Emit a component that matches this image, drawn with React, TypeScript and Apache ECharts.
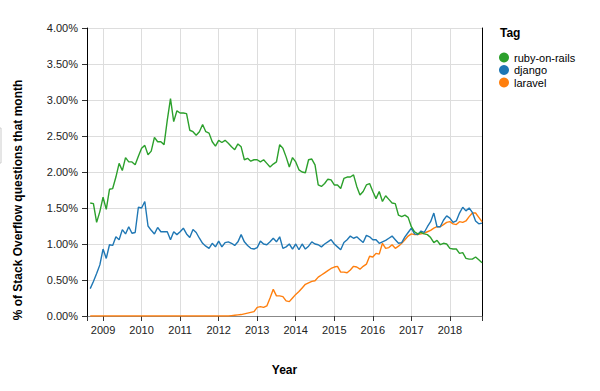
import React, { useEffect, useRef } from "react";
import * as echarts from "echarts";

// Monthly categories: Aug 2008 .. Nov 2018 (the first month carries no data)
const START_YEAR = 2008;
const START_MONTH = 8;
const MONTH_COUNT = 124;
const months: string[] = [];
for (let i = 0; i < MONTH_COUNT; i++) {
  const total = START_MONTH - 1 + i;
  const y = START_YEAR + Math.floor(total / 12);
  const m = (total % 12) + 1;
  months.push(`${y}-${m < 10 ? "0" + m : m}`);
}

const seriesNames = ["ruby-on-rails", "django", "laravel"];
const seriesColors = ["#2ca02c", "#1f77b4", "#ff7f0e"];

// % of Stack Overflow questions that month, Sep 2008 .. Nov 2018
const rubyOnRails = [
  1.57, 1.56, 1.30, 1.45, 1.65, 1.48, 1.76, 1.77, 1.93, 2.12,
  2.02, 2.20, 2.14, 2.14, 2.10, 2.22, 2.33, 2.37, 2.24, 2.29,
  2.48, 2.42, 2.42, 2.38, 2.72, 3.02, 2.70, 2.85, 2.82, 2.82,
  2.81, 2.58, 2.56, 2.51, 2.56, 2.66, 2.56, 2.54, 2.42, 2.36,
  2.44, 2.41, 2.44, 2.40, 2.35, 2.31, 2.39, 2.35, 2.17, 2.19,
  2.15, 2.17, 2.17, 2.14, 2.17, 2.12, 2.07, 2.11, 2.14, 2.38,
  2.33, 2.21, 2.07, 2.20, 2.14, 2.03, 2.00, 1.99, 2.17, 2.18,
  2.10, 1.82, 1.80, 1.84, 1.90, 1.89, 1.82, 1.82, 1.77, 1.91,
  1.93, 1.93, 1.96, 1.80, 1.68, 1.73, 1.82, 1.84, 1.73, 1.63,
  1.73, 1.59, 1.67, 1.62, 1.57, 1.56, 1.40, 1.38, 1.40, 1.37,
  1.24, 1.17, 1.14, 1.16, 1.14, 1.13, 1.09, 1.02, 1.05, 0.99,
  1.01, 1.00, 0.94, 0.93, 0.93, 0.87, 0.88, 0.80, 0.79, 0.79,
  0.82, 0.78, 0.74,
];

const django = [
  0.38, 0.48, 0.59, 0.71, 0.93, 0.80, 0.99, 0.98, 1.10, 1.06,
  1.20, 1.14, 1.24, 1.15, 1.16, 1.51, 1.50, 1.59, 1.25, 1.19,
  1.14, 1.23, 1.17, 1.17, 1.17, 1.06, 1.17, 1.13, 1.17, 1.22,
  1.14, 1.09, 1.20, 1.16, 1.08, 1.01, 0.97, 0.94, 1.01, 0.96,
  1.04, 0.96, 1.02, 1.03, 1.01, 0.98, 1.03, 1.13, 1.03, 0.98,
  0.94, 0.93, 0.95, 1.04, 1.00, 0.99, 1.03, 1.08, 1.03, 1.10,
  0.94, 0.96, 1.00, 0.93, 1.00, 0.92, 1.00, 0.93, 0.97, 1.03,
  1.00, 0.99, 0.96, 1.00, 1.03, 1.06, 1.00, 0.96, 0.92, 1.02,
  1.06, 1.11, 1.08, 1.10, 1.06, 1.02, 1.12, 1.10, 1.06, 1.06,
  1.01, 1.03, 1.05, 1.08, 1.11, 1.06, 1.01, 1.02, 1.10, 1.16,
  1.22, 1.14, 1.13, 1.18, 1.16, 1.24, 1.31, 1.43, 1.24, 1.24,
  1.33, 1.39, 1.36, 1.30, 1.32, 1.43, 1.51, 1.46, 1.50, 1.44,
  1.32, 1.28, 1.29,
];

const laravel = [
  0, 0, 0, 0, 0, 0, 0, 0, 0, 0,
  0, 0, 0, 0, 0, 0, 0, 0, 0, 0,
  0, 0, 0, 0, 0, 0, 0, 0, 0, 0,
  0, 0, 0, 0, 0, 0, 0, 0, 0, 0,
  0, 0, 0, 0, 0.005, 0.01, 0.015, 0.02, 0.03, 0.04,
  0.05, 0.06, 0.12, 0.13, 0.12, 0.14, 0.25, 0.37, 0.28, 0.28,
  0.27, 0.21, 0.20, 0.25, 0.30, 0.34, 0.39, 0.44, 0.46, 0.48,
  0.49, 0.54, 0.57, 0.60, 0.63, 0.66, 0.68, 0.69, 0.61, 0.61,
  0.60, 0.64, 0.69, 0.68, 0.65, 0.69, 0.72, 0.83, 0.82, 0.87,
  0.86, 1.01, 0.94, 0.95, 0.99, 0.94, 0.97, 1.01, 1.06, 1.11,
  1.14, 1.13, 1.13, 1.14, 1.15, 1.17, 1.19, 1.22, 1.24, 1.24,
  1.27, 1.30, 1.31, 1.28, 1.27, 1.31, 1.30, 1.32, 1.38, 1.43,
  1.43, 1.37, 1.31,
];

const seriesValues = [rubyOnRails, django, laravel];

const yMin = 0;
const yMax = 4;
const yStep = 0.5;

const FONT = "'Liberation Sans', Arial, Helvetica, sans-serif";

export default function App() {
  const ref = useRef<HTMLDivElement>(null);

  useEffect(() => {
    if (!ref.current) return;
    const chart = echarts.init(ref.current, null, { renderer: "svg" });
    const last = months.length - 1;
    const isJan = (v: string) => v.endsWith("-01");

    const option: any = {
      animation: false,
      backgroundColor: "#ffffff",
      textStyle: { fontFamily: FONT },
      grid: { left: 87, right: 118, top: 28, bottom: 75, containLabel: false },
      xAxis: {
        type: "category",
        data: months,
        boundaryGap: false,
        axisLine: { show: true, lineStyle: { color: "#888888", width: 1 } },
        axisTick: {
          show: true,
          length: 5,
          interval: (i: number, v: string) => isJan(v) || i === 0 || i === last,
          lineStyle: { color: "#333333", width: 1 },
        },
        axisLabel: {
          interval: (_i: number, v: string) => isJan(v),
          formatter: (v: string) => v.slice(0, 4),
          color: "#222222",
          fontSize: 11,
          fontFamily: FONT,
          margin: 8,
        },
        splitLine: {
          show: true,
          interval: (_i: number, v: string) => isJan(v),
          lineStyle: { color: "#dddddd", width: 1 },
        },
      },
      yAxis: [
        {
          type: "value",
          min: yMin,
          max: yMax,
          interval: yStep,
          axisLine: { show: true, lineStyle: { color: "#000000", width: 1 } },
          axisTick: { show: true, length: 5, lineStyle: { color: "#333333" } },
          axisLabel: {
            formatter: (v: number) => v.toFixed(2) + "%",
            color: "#222222",
            fontSize: 11,
            fontFamily: FONT,
            margin: 9,
          },
          splitLine: { show: true, lineStyle: { color: "#dddddd", width: 1 } },
        },
        {
          type: "value",
          position: "right",
          min: yMin,
          max: yMax,
          interval: yStep,
          axisLine: { show: true, lineStyle: { color: "#000000", width: 1 } },
          axisTick: { show: false },
          axisLabel: { show: false },
          splitLine: { show: false },
        },
      ],
      legend: {
        orient: "vertical",
        left: 494,
        top: 47,
        icon: "circle",
        itemWidth: 10,
        itemHeight: 10,
        itemGap: 1.5,
        textStyle: { fontSize: 11, color: "#000000", fontFamily: FONT },
        data: seriesNames,
      },
      series: seriesNames.map((name, k) => ({
        name,
        type: "line",
        yAxisIndex: 0,
        data: [null, ...seriesValues[k]],
        showSymbol: false,
        symbol: "none",
        connectNulls: false,
        color: seriesColors[k],
        lineStyle: { color: seriesColors[k], width: 1.4 },
        z: 3 - k,
      })),
      graphic: [
        {
          type: "text",
          x: 284.5,
          y: 370,
          style: {
            text: "Year",
            font: `bold 12px ${FONT}`,
            fill: "#000000",
            align: "center",
            verticalAlign: "middle",
          },
        },
        {
          type: "text",
          x: 18,
          y: 200,
          rotation: Math.PI / 2,
          style: {
            text: "% of Stack Overflow questions that month",
            font: `bold 12px ${FONT}`,
            fill: "#000000",
            align: "center",
            verticalAlign: "middle",
          },
        },
        {
          type: "text",
          x: 500,
          y: 33,
          style: {
            text: "Tag",
            font: `bold 12px ${FONT}`,
            fill: "#000000",
            align: "left",
            verticalAlign: "middle",
          },
        },
        {
          type: "rect",
          shape: { x: -20, y: 128, width: 21, height: 35 },
          style: { fill: "none", stroke: "#cccccc", lineWidth: 1 },
        },
      ],
    };

    chart.setOption(option);
    return () => chart.dispose();
  }, []);

  return (
    <div
      ref={ref}
      style={{ position: "fixed", left: 0, top: 0, width: 600, height: 391 }}
    />
  );
}
